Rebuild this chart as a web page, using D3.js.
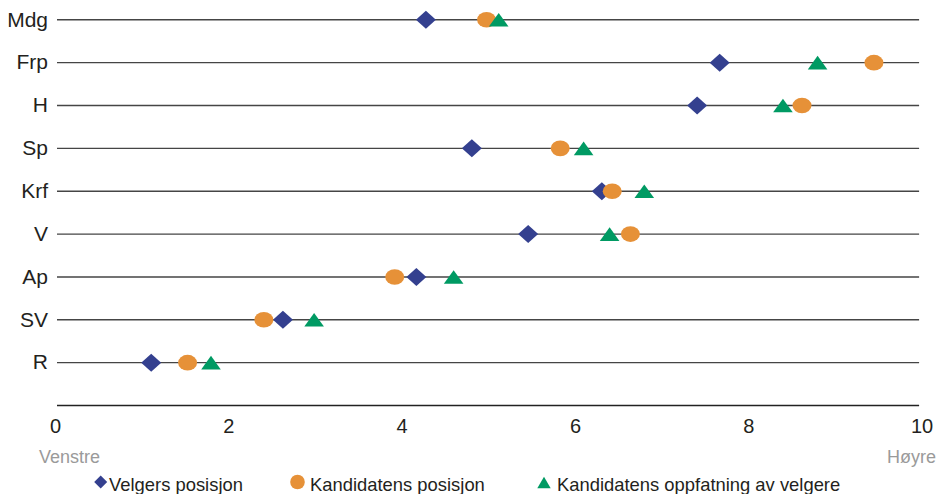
<!DOCTYPE html>
<html><head><meta charset="utf-8">
<script src="https://cdn.jsdelivr.net/npm/d3@7"></script>
<style>
html,body{margin:0;padding:0;background:#fff;}
svg text{font-family:"Liberation Sans",Arial,sans-serif;}
</style></head>
<body><svg id="c" width="944" height="494"></svg>
<script>
const parties = ["Mdg","Frp","H","Sp","Krf","V","Ap","SV","R"];
const velgers = [4.28,7.67,7.41,4.81,6.31,5.46,4.17,2.63,1.11];
const kandidat = [4.98,9.45,8.62,5.83,6.43,6.64,3.92,2.41,1.53];
const oppfatning = [5.12,8.80,8.40,6.10,6.80,6.40,4.60,2.99,1.80];
const xTicks = [0,2,4,6,8,10];
const seriesNames = ["Velgers posisjon","Kandidatens posisjon","Kandidatens oppfatning av velgere"];
const colors = ["#34408f","#e69138","#009a63"];

const svg = d3.select("#c");
const x = d3.scaleLinear().domain([0,10]).range([55,921.6]);
const y = d3.scalePoint().domain([...parties,"_axis"]).range([19.8,405.5]);

// grid lines
svg.append("g").selectAll("line").data(parties).join("line")
  .attr("x1",x(0)+2).attr("x2",x(10)-2.5)
  .attr("y1",d=>y(d)).attr("y2",d=>y(d))
  .attr("stroke","#454545").attr("stroke-width",1.4);

// bottom axis
const ax = svg.append("g").attr("transform",`translate(0,${y("_axis")})`)
  .call(d3.axisBottom(x).tickValues(xTicks).tickSize(0).tickPadding(13).tickFormat(d3.format("d")));
ax.select(".domain").attr("d",`M${x(0)+2},0H${x(10)-2.5}`).attr("stroke","#222").attr("stroke-width",1.3);
ax.selectAll("text").attr("font-size",20).attr("fill","#231f20").attr("font-family","Liberation Sans, Arial, sans-serif");

// category labels
svg.append("g").selectAll("text").data(parties).join("text")
  .attr("x",48).attr("y",d=>y(d)+6.8).attr("text-anchor","end")
  .attr("font-size",21).attr("fill","#231f20").text(d=>d);

// side labels
svg.append("text").attr("x",39).attr("y",463).attr("font-size",18).attr("fill","#9a9a9a").text("Venstre");
svg.append("text").attr("x",936).attr("y",463).attr("text-anchor","end").attr("font-size",18).attr("fill","#9a9a9a").text("Høyre");

// marker shapes
const diamond = (w,h)=>`M0,${-h}L${w},0L0,${h}L${-w},0Z`;
const tri = (w,h)=>`M0,${-h}L${w},${h}L${-w},${h}Z`;

const g = svg.append("g");
g.selectAll("path.d").data(parties).join("path").attr("class","d")
  .attr("d",diamond(10,9)).attr("fill",colors[0])
  .attr("transform",(d,i)=>`translate(${x(velgers[i])},${y(d)})`);
g.selectAll("ellipse").data(parties).join("ellipse")
  .attr("cx",(d,i)=>x(kandidat[i])).attr("cy",d=>y(d))
  .attr("rx",9.5).attr("ry",7.8).attr("fill",colors[1]);
g.selectAll("path.t").data(parties).join("path").attr("class","t")
  .attr("d",tri(9.8,6.8)).attr("fill",colors[2])
  .attr("transform",(d,i)=>`translate(${x(oppfatning[i])},${y(d)})`);

// legend
const ly = 482;
const lg = svg.append("g");
lg.append("path").attr("d",diamond(6.5,6.5)).attr("fill",colors[0]).attr("transform",`translate(100.7,${ly})`);
lg.append("text").attr("x",109).attr("y",ly+8.5).attr("font-size",18.4).attr("fill","#231f20").text(seriesNames[0]);
lg.append("circle").attr("cx",297.5).attr("cy",ly).attr("r",7.3).attr("fill",colors[1]);
lg.append("text").attr("x",310).attr("y",ly+8.5).attr("font-size",18.4).attr("fill","#231f20").text(seriesNames[1]);
lg.append("path").attr("d",tri(6.7,5.7)).attr("fill",colors[2]).attr("transform",`translate(544,${ly+0.5})`);
lg.append("text").attr("x",557).attr("y",ly+8.5).attr("font-size",18.4).attr("fill","#231f20").text(seriesNames[2]);
</script></body></html>
